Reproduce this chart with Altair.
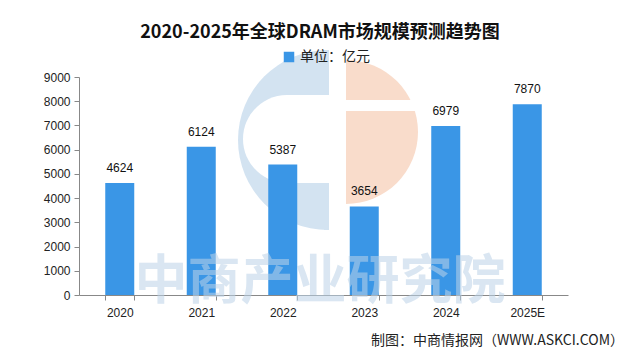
import altair as alt
import pandas as pd

years = ["2020", "2021", "2022", "2023", "2024", "2025E"]
values = [4624, 6124, 5387, 3654, 6979, 7870]
series_name = "单位：亿元"
title_text = "2020-2025年全球DRAM市场规模预测趋势图"
footer_text = "制图：中商情报网（WWW.ASKCI.COM）"
watermark_text = "中商产业研究院"
y_ticks = [0, 1000, 2000, 3000, 4000, 5000, 6000, 7000, 8000, 9000]

BAR = "#3a96e6"
CJK = "Noto Sans CJK SC"
LAT = "Liberation Sans"

df = pd.DataFrame({"year": years, "value": values, "series": [series_name] * len(years)})
one = alt.Data(values=[{"k": 1}])

W, H = 489, 218

# watermark logo pieces (decoration)
peach = alt.Chart(one).mark_arc(color="#f9dccb", theta=0, theta2=3.14159, radius=72, radius2=0).encode(
    x=alt.value(267), y=alt.value(55))
peach_gap = alt.Chart(one).mark_rect(color="white").encode(
    x=alt.value(267), x2=alt.value(345), y=alt.value(23), y2=alt.value(34))
blue_c = alt.Chart(one).mark_arc(color="#d3e3f1", theta=3.14159, theta2=6.28318, radius=90, radius2=0).encode(
    x=alt.value(249), y=alt.value(63))
blue_top = alt.Chart(one).mark_rect(color="#d3e3f1").encode(
    x=alt.value(245), x2=alt.value(250), y=alt.value(-27), y2=alt.value(153))
blue_slot = alt.Chart(one).mark_rect(color="white", cornerRadiusTopLeft=44, cornerRadiusBottomLeft=44).encode(
    x=alt.value(164), x2=alt.value(252), y=alt.value(18), y2=alt.value(106))

x_enc = alt.X("year:N", sort=years, title=None,
              scale=alt.Scale(paddingInner=0.644, paddingOuter=0.322),
              axis=alt.Axis(labelAngle=0, labelFont=LAT, labelFontSize=12, labelColor="#222",
                            labelPadding=7, tickBand="extent", tickSize=5, tickColor="#888",
                            domainColor="#888", grid=False))
y_enc = alt.Y("value:Q", title=None, scale=alt.Scale(domain=[0, 9000], nice=False),
              axis=alt.Axis(values=y_ticks, format="d", labelOverlap=False, labelFont=LAT,
                            labelFontSize=12, labelColor="#222", labelPadding=4, tickSize=5,
                            tickColor="#888", domainColor="#888", grid=False))

base = alt.Chart(df).encode(x=x_enc, y=y_enc)

bars = base.mark_bar(size=29).encode(
    color=alt.Color("series:N", scale=alt.Scale(domain=[series_name], range=[BAR]),
                    legend=alt.Legend(title=None, orient="none", legendX=203, legendY=-27,
                                      symbolType="square", symbolSize=110, symbolStrokeWidth=0,
                                      labelFont=CJK, labelFontSize=14, labelColor="#222",
                                      labelOffset=4, padding=0)),
)

labels = base.mark_text(font=LAT, fontSize=12, color="#111", baseline="middle", dy=-15).encode(
    text="value:Q")

watermark = alt.Chart(one).mark_text(text=watermark_text, font=CJK, fontSize=53, fontWeight="bold",
                                     color="#bcd3e8", opacity=0.55, align="center", baseline="middle").encode(
    x=alt.value(241), y=alt.value(206))

title = alt.Chart(one).mark_text(text=title_text, font=CJK, fontSize=18, fontWeight="bold",
                                 color="#111", align="center", baseline="middle").encode(
    x=alt.value(241), y=alt.value(-44))

footer = alt.Chart(one).mark_text(text=footer_text, font=CJK, fontSize=14, color="#222",
                                  align="right", baseline="middle").encode(
    x=alt.value(545), y=alt.value(264))

chart = alt.layer(peach, peach_gap, blue_c, blue_top, blue_slot, bars, watermark, labels, title, footer).properties(
    width=W, height=H,
    autosize=alt.AutoSizeParams(type="none"),
    padding={"left": 71, "top": 69, "right": 60, "bottom": 55},
    background="white",
).configure_view(stroke=None)

chart.save("out.html", embed_options={"renderer": "svg", "actions": False})
